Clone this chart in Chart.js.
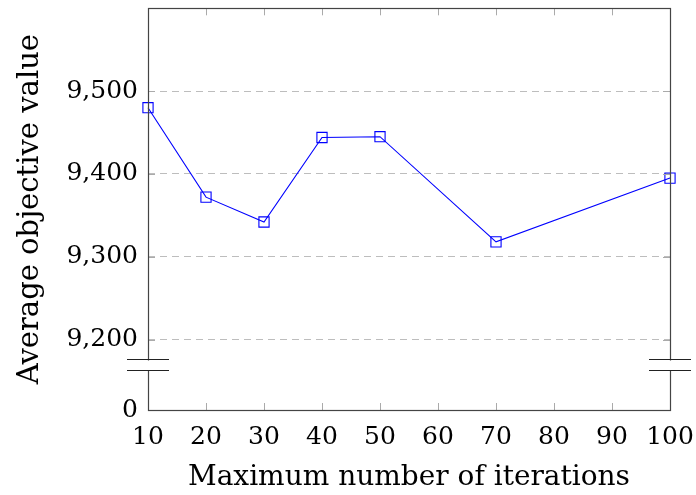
<!DOCTYPE html>
<html>
<head>
<meta charset="utf-8">
<script src="https://cdn.jsdelivr.net/npm/chart.js@4.4.1/dist/chart.umd.min.js"></script>
<style>
  html, body { margin: 0; padding: 0; background: #fff; }
  #wrap { width: 696px; height: 495px; }
</style>
</head>
<body>
<div id="wrap"><canvas id="lineChart" width="696" height="495"></canvas></div>
<script>
// data
const iterations = [10, 20, 30, 40, 50, 70, 100];
const objective = [9480, 9372, 9342, 9444, 9445, 9318, 9395];
const xTicks = [10, 20, 30, 40, 50, 60, 70, 80, 90, 100];
const yTicks = [9200, 9300, 9400, 9500];

// the axis is broken: bottom of the axis stands for 0
const yZero = 9115;
const yTop = 9600;
const breakBand = [9163, 9176];

const FONT = "'DejaVu Serif', serif";
const frameColor = "#444";
const tickColor = "#aaa";

const framePlugin = {
    id: "frame",
    afterDraw(chart) {
        const ctx = chart.ctx;
        const a = chart.chartArea;
        const xs = chart.scales.x, ys = chart.scales.y;
        ctx.save();
        // inward ticks on all four sides
        ctx.strokeStyle = tickColor;
        ctx.lineWidth = 1;
        ctx.beginPath();
        xTicks.forEach(v => {
            const px = Math.round(xs.getPixelForValue(v)) + 0.5;
            ctx.moveTo(px, a.bottom); ctx.lineTo(px, a.bottom - 7);
            ctx.moveTo(px, a.top); ctx.lineTo(px, a.top + 7);
        });
        yTicks.forEach(v => {
            const py = Math.round(ys.getPixelForValue(v)) + 0.5;
            ctx.moveTo(a.left, py); ctx.lineTo(a.left + 7, py);
            ctx.moveTo(a.right, py); ctx.lineTo(a.right - 7, py);
        });
        ctx.stroke();
        // box
        ctx.strokeStyle = frameColor;
        ctx.lineWidth = 1.2;
        ctx.strokeRect(Math.round(a.left) + 0.5, Math.round(a.top) + 0.5,
            Math.round(a.right - a.left), Math.round(a.bottom - a.top));
        // break symbols on both vertical axes
        const y1 = Math.round(ys.getPixelForValue(breakBand[1])) + 0.5;
        const y2 = Math.round(ys.getPixelForValue(breakBand[0])) + 0.5;
        [a.left, a.right].forEach(x0 => {
            ctx.fillStyle = "#fff";
            ctx.fillRect(x0 - 3, y1 + 1, 6, y2 - y1 - 1);
            ctx.strokeStyle = "#222";
            ctx.lineWidth = 1.2;
            ctx.beginPath();
            ctx.moveTo(x0 - 21, y1); ctx.lineTo(x0 + 21, y1);
            ctx.moveTo(x0 - 21, y2); ctx.lineTo(x0 + 21, y2);
            ctx.stroke();
        });
        ctx.restore();
    }
};

const ref = document.getElementById("lineChart").getContext("2d");
const lineChart = new Chart(ref, {
    type: "line",
    data: {
        datasets: [{
            data: iterations.map((x, i) => ({ x, y: objective[i] })),
            borderColor: "#0000ff",
            borderWidth: 1.1,
            backgroundColor: "rgba(0,0,0,0)",
            pointStyle: "rect",
            pointRadius: 7.2,
            pointHoverRadius: 7.2,
            pointBorderWidth: 1.1,
            pointBorderColor: "#0000ff",
            pointBackgroundColor: "rgba(0,0,0,0)",
            tension: 0,
            clip: false
        }]
    },
    options: {
        responsive: false,
        animation: false,
        layout: { padding: { top: 8, right: 26, left: 0, bottom: 0 } },
        plugins: { legend: { display: false }, tooltip: { enabled: false } },
        scales: {
            x: {
                type: "linear",
                min: 10,
                max: 100,
                afterBuildTicks: s => { s.ticks = xTicks.map(v => ({ value: v })); },
                afterFit: s => { s.height = 85; s.paddingLeft = 0; s.paddingRight = 0; },
                border: { display: false },
                grid: { display: false, drawTicks: false },
                ticks: {
                    color: "#000",
                    padding: 12,
                    maxRotation: 0,
                    font: { family: FONT, size: 25 }
                },
                title: {
                    display: true,
                    text: "Maximum number of iterations",
                    color: "#000",
                    padding: { top: 4, bottom: 0 },
                    font: { family: FONT, size: 28 }
                }
            },
            y: {
                type: "linear",
                min: yZero,
                max: yTop,
                afterBuildTicks: s => { s.ticks = [yZero, ...yTicks].map(v => ({ value: v })); },
                afterFit: s => { s.width = 148; s.paddingTop = 0; s.paddingBottom = 0; },
                border: { display: false, dash: [7, 5] },
                grid: {
                    drawTicks: false,
                    color: c => (c.tick && c.tick.value === yZero) ? "rgba(0,0,0,0)" : "#bdbdbd",
                    lineWidth: 1
                },
                ticks: {
                    color: "#000",
                    padding: 10,
                    font: { family: FONT, size: 25 },
                    callback: v => v === yZero ? "0" : v.toLocaleString("en-US")
                },
                title: {
                    display: true,
                    text: "Average objective value",
                    color: "#000",
                    padding: { top: 13, bottom: 6 },
                    font: { family: FONT, size: 29 }
                }
            }
        }
    },
    plugins: [framePlugin]
});
</script>
</body>
</html>
